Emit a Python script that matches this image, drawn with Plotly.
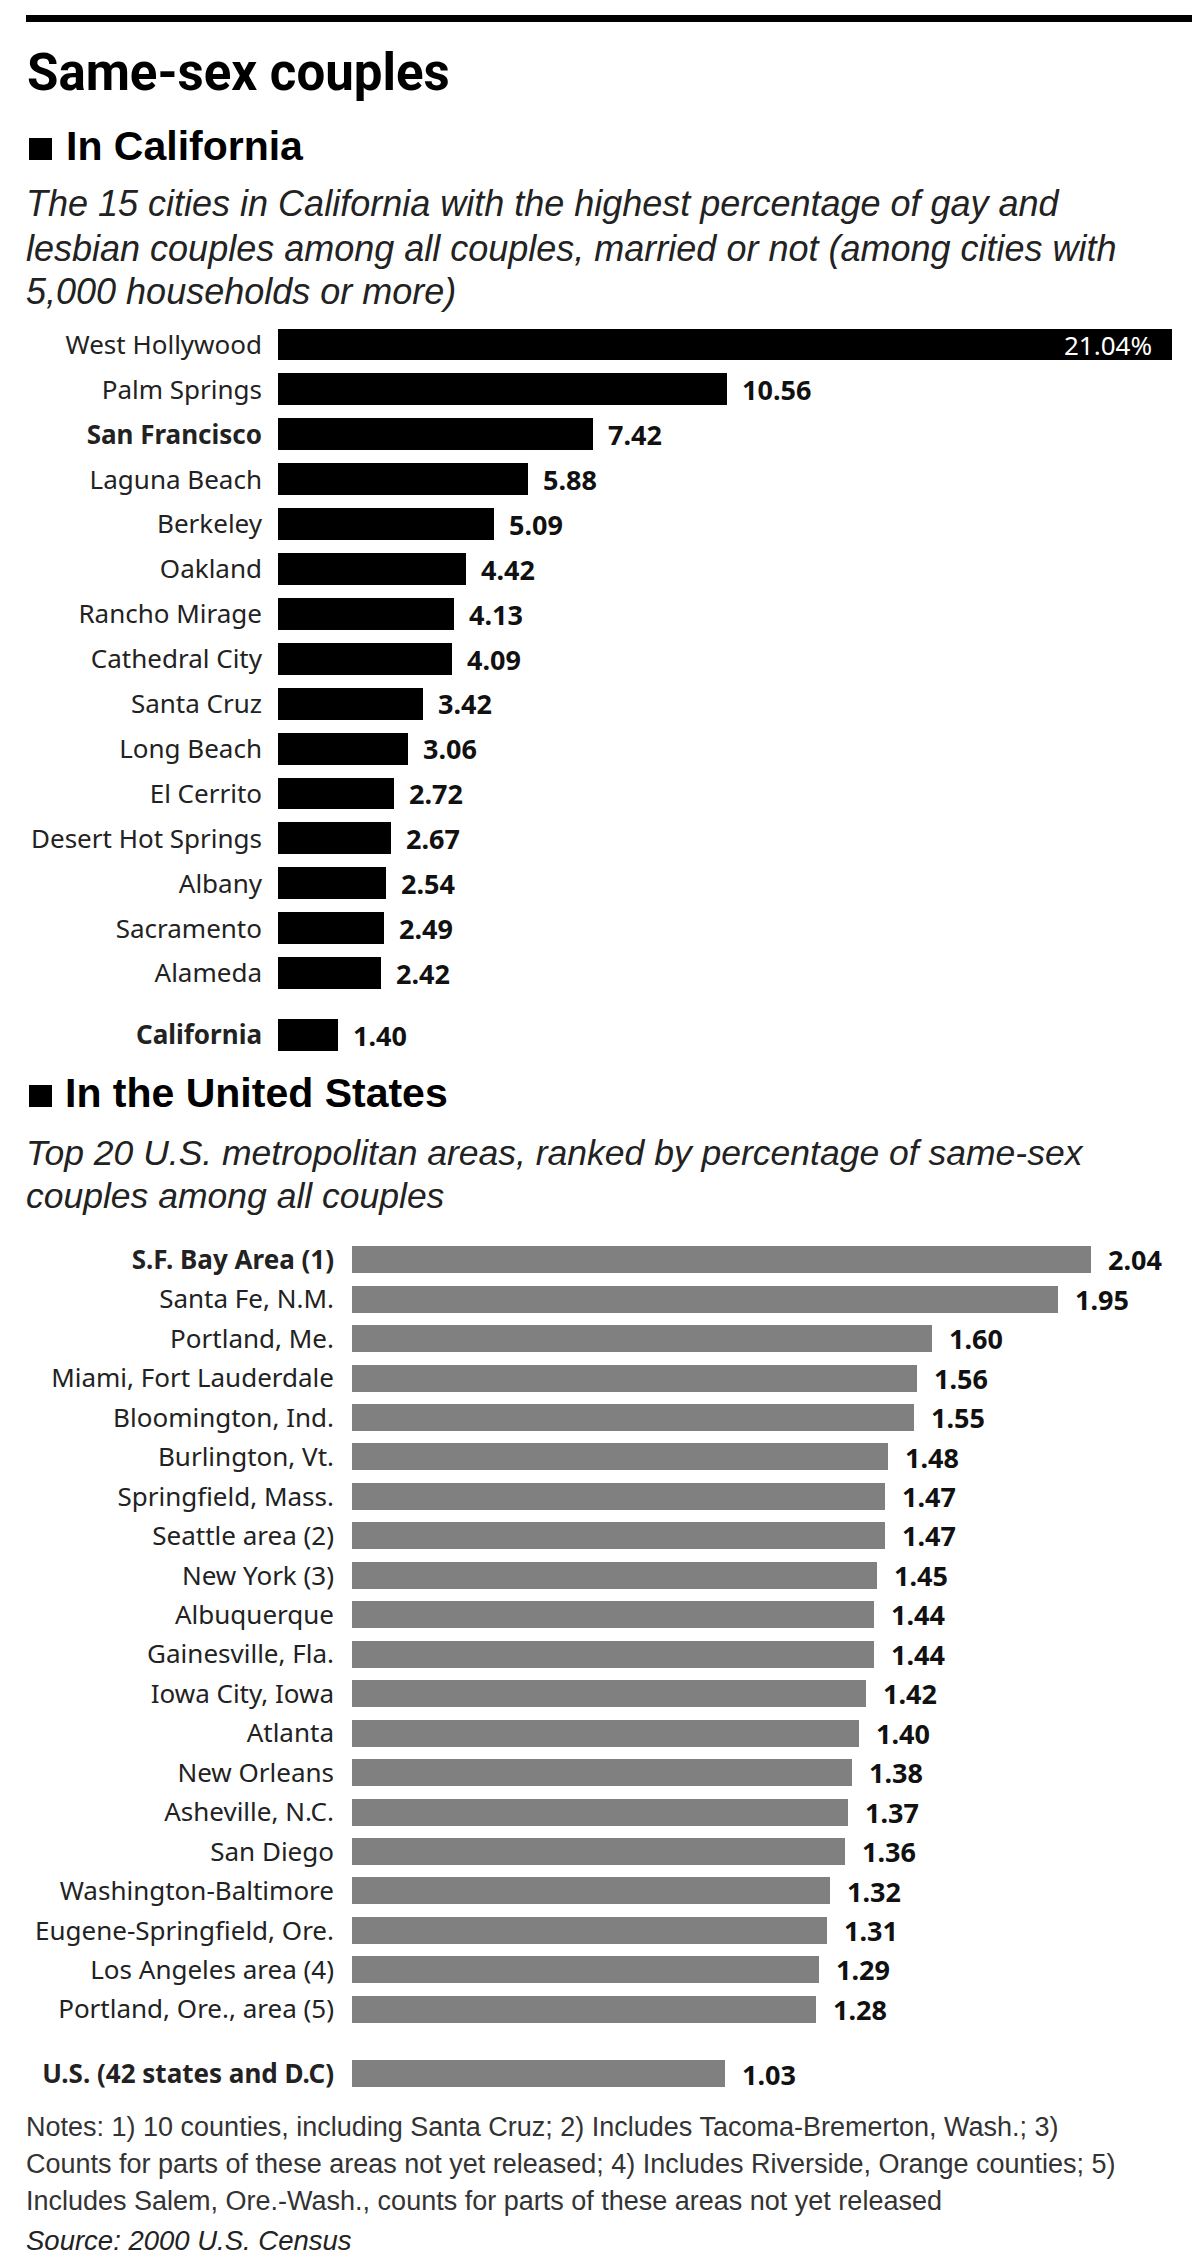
import plotly.graph_objects as go

# ---------------- data ----------------
ca_cities = ["West Hollywood", "Palm Springs", "San Francisco", "Laguna Beach", "Berkeley",
             "Oakland", "Rancho Mirage", "Cathedral City", "Santa Cruz", "Long Beach",
             "El Cerrito", "Desert Hot Springs", "Albany", "Sacramento", "Alameda", "California"]
ca_values = [21.04, 10.56, 7.42, 5.88, 5.09, 4.42, 4.13, 4.09, 3.42, 3.06,
             2.72, 2.67, 2.54, 2.49, 2.42, 1.40]
ca_bold = ["San Francisco", "California"]

us_areas = ["S.F. Bay Area (1)", "Santa Fe, N.M.", "Portland, Me.", "Miami, Fort Lauderdale",
            "Bloomington, Ind.", "Burlington, Vt.", "Springfield, Mass.", "Seattle area (2)",
            "New York (3)", "Albuquerque", "Gainesville, Fla.", "Iowa City, Iowa", "Atlanta",
            "New Orleans", "Asheville, N.C.", "San Diego", "Washington-Baltimore",
            "Eugene-Springfield, Ore.", "Los Angeles area (4)", "Portland, Ore., area (5)",
            "U.S. (42 states and D.C)"]
us_values = [2.04, 1.95, 1.60, 1.56, 1.55, 1.48, 1.47, 1.47, 1.45, 1.44, 1.44, 1.42, 1.40,
             1.38, 1.37, 1.36, 1.32, 1.31, 1.29, 1.28, 1.03]
us_bold = ["S.F. Bay Area (1)", "U.S. (42 states and D.C)"]

title = "Same-sex couples"
ca_head = "In California"
ca_sub = ["The 15 cities in California with the highest percentage of gay and",
          "lesbian couples among all couples, married or not (among cities with",
          "5,000 households or more)"]
us_head = "In the United States"
us_sub = ["Top 20 U.S. metropolitan areas, ranked by percentage of same-sex",
          "couples among all couples"]
notes = ["Notes: 1) 10 counties, including Santa Cruz; 2) Includes Tacoma-Bremerton, Wash.; 3)",
         "Counts for parts of these areas not yet released; 4) Includes Riverside, Orange counties; 5)",
         "Includes Salem, Ore.-Wash., counts for parts of these areas not yet released"]
source = "Source: 2000 U.S. Census"

# ---------------- layout helpers ----------------
W, H = 1200, 2256
def py(y):
    return 1 - y / H

LABEL_FONT = "Noto Sans, Open Sans, DejaVu Sans, sans-serif"
BOLD_FONT = "Liberation Sans, Arial, sans-serif"
TITLE_FONT = "Roboto, Liberation Sans, sans-serif"

# positions: the summary row sits after a larger gap
ca_pos = list(range(len(ca_cities) - 1)) + [len(ca_cities) - 1 + 0.38]
us_pos = list(range(len(us_areas) - 1)) + [len(us_areas) - 1 + 0.64]

def fmt_label(name, bold):
    return f"<b>{name}</b>" if name in bold else name

fig = go.Figure()
fig.add_trace(go.Bar(
    x=ca_values, y=ca_pos, orientation="h", width=0.71,
    marker=dict(color="#000000", line=dict(width=0)),
    xaxis="x", yaxis="y", hoverinfo="skip", showlegend=False))
fig.add_trace(go.Bar(
    x=us_values, y=us_pos, orientation="h", width=0.684,
    marker=dict(color="#808080", line=dict(width=0)),
    xaxis="x2", yaxis="y2", hoverinfo="skip", showlegend=False))

annotations = []
# value labels, California
for i, (v, p) in enumerate(zip(ca_values, ca_pos)):
    if i == 0:
        annotations.append(dict(x=v, y=p, xref="x", yref="y", text=f"{v:.2f}%",
                                xanchor="right", yanchor="middle", xshift=-18, showarrow=False,
                                font=dict(family=LABEL_FONT, size=26, color="white")))
    else:
        annotations.append(dict(x=v, y=p, xref="x", yref="y", text=f"<b>{v:.2f}</b>",
                                xanchor="left", yanchor="middle", xshift=13, showarrow=False,
                                font=dict(family=LABEL_FONT, size=27, color="#111111")))
for v, p in zip(us_values, us_pos):
    annotations.append(dict(x=v, y=p, xref="x2", yref="y2", text=f"<b>{v:.2f}</b>",
                            xanchor="left", yanchor="middle", xshift=15, showarrow=False,
                            font=dict(family=LABEL_FONT, size=27, color="#111111")))

def txt(text, x, y, size, family, color="#111111", anchor="left"):
    annotations.append(dict(x=x / W, y=py(y), xref="paper", yref="paper", text=text,
                            xanchor=anchor, yanchor="middle", showarrow=False,
                            font=dict(family=family, size=size, color=color)))

txt(f"<b>{title}</b>", 17, 64, 51, TITLE_FONT, "#000000")
txt(f"<b>{ca_head}</b>", 56, 138, 41, BOLD_FONT, "#000000")
for line, y in zip(ca_sub, [196, 240, 283]):
    txt(f"<i>{line}</i>", 16, y, 36, BOLD_FONT, "#222222")
txt(f"<b>{us_head}</b>", 55, 1085, 41, BOLD_FONT, "#000000")
for line, y in zip(us_sub, [1145, 1188]):
    txt(f"<i>{line}</i>", 16, y, 35.5, BOLD_FONT, "#222222")
for line, y in zip(notes, [2119, 2156, 2193]):
    txt(line, 16, y, 27, BOLD_FONT, "#333333")
txt(f"<i>{source}</i>", 16, 2232, 27.5, BOLD_FONT, "#222222")

shapes = [
    dict(type="rect", xref="paper", yref="paper", x0=18 / W, x1=1, y0=py(14), y1=py(7),
         fillcolor="#000000", line=dict(width=0)),
    dict(type="rect", xref="paper", yref="paper", x0=21 / W, x1=44 / W, y0=py(152), y1=py(130),
         fillcolor="#000000", line=dict(width=0)),
    dict(type="rect", xref="paper", yref="paper", x0=21 / W, x1=44 / W, y0=py(1099), y1=py(1077),
         fillcolor="#000000", line=dict(width=0)),
]

axis_common = dict(showgrid=False, zeroline=False, showline=False, fixedrange=True)

fig.update_layout(
    width=W, height=H, margin=dict(l=0, r=0, t=0, b=0),
    paper_bgcolor="white", plot_bgcolor="white",
    font=dict(family=LABEL_FONT, color="#222222"),
    bargap=0,
    xaxis=dict(domain=[270 / W, (270 + 21.04 * 42.5) / W], range=[0, 21.04],
               showticklabels=False, anchor="y", **axis_common),
    yaxis=dict(domain=[py(1049.75), py(314.25)], range=[15.88, -0.5],
               tickvals=ca_pos, ticktext=[fmt_label(c, ca_bold) for c in ca_cities],
               tickfont=dict(family=LABEL_FONT, size=26, color="#222222"),
               ticks="", ticklabelstandoff=15, anchor="x", **axis_common),
    xaxis2=dict(domain=[344 / W, 1083 / W], range=[0, 2.04],
                showticklabels=False, anchor="y2", **axis_common),
    yaxis2=dict(domain=[py(2085.8), py(1232.1)], range=[21.14, -0.5],
                tickvals=us_pos, ticktext=[fmt_label(c, us_bold) for c in us_areas],
                tickfont=dict(family=LABEL_FONT, size=26, color="#222222"),
                ticks="", ticklabelstandoff=17, anchor="x2", **axis_common),
    annotations=annotations,
    shapes=shapes,
)

fig.write_html("out.html")
